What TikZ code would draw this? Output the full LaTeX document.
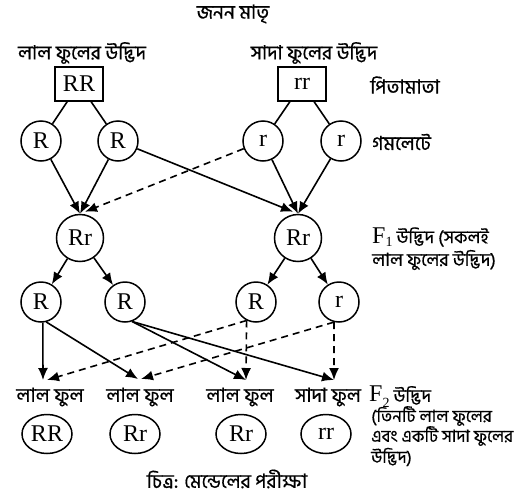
\documentclass[tikz,border=0pt]{standalone}
\usepackage{fontspec}
\setmainfont{Liberation Serif}
\newfontfamily\bn[Script=Bengali,FakeBold=0.6]{Hind Siliguri}
\usetikzlibrary{arrows.meta,shapes.geometric}
\begin{document}
\begin{tikzpicture}[x=1pt,y=-1pt,
  every node/.style={inner sep=0pt},
  lat/.style={font=\fontsize{24}{26}\selectfont},
  bntext/.style={font=\bn\fontsize{19.5}{22}\selectfont},
  sidetext/.style={font=\bn\fontsize{18}{20}\selectfont, anchor=west},
  sidesmall/.style={font=\bn\fontsize{17}{19}\selectfont, anchor=west},
  box/.style={draw, line width=1.5pt, minimum width=48pt, minimum height=34pt, lat},
  gam/.style={draw, circle, line width=1.5pt, minimum size=40pt, lat},
  fone/.style={draw, circle, line width=1.5pt, minimum size=47pt, lat},
  ftwo/.style={draw, ellipse, line width=1.5pt, minimum width=50pt, minimum height=39pt, lat},
  link/.style={line width=1.6pt},
  arr/.style={line width=1.6pt, -{Latex[length=12pt,width=10pt]}},
  darr/.style={arr, dash pattern=on 7pt off 5pt},
]
\useasboundingbox (0,0) rectangle (525,501);
\fill[white] (0,0) rectangle (525,501);

% texts
\node[bntext] (title) at (233,14) {জনন মাতৃ};
\node[bntext] (redp) at (82,53) {লাল ফুলের উদ্ভিদ};
\node[bntext] (whitep) at (314,53) {সাদা ফুলের উদ্ভিদ};
\node[bntext, anchor=west] (parents) at (370,85) {পিতামাতা};
\node[bntext, anchor=west] (gametes) at (372,142) {গমলেটে};
\node[sidetext] (fa) at (372,237) {{\rmfamily\fontsize{24}{26}\selectfont F\raisebox{-3pt}{\fontsize{14}{14}\selectfont 1}} উদ্ভিদ (সকলই};
\node[sidetext] (fb) at (372,260) {লাল ফুলের উদ্ভিদ)};
\node[sidetext] (fc) at (369,397) {{\rmfamily\fontsize{24}{26}\selectfont F\raisebox{-6pt}{\fontsize{14}{14}\selectfont 2}} উদ্ভিদ};
\node[sidesmall] (fd) at (371,416) {(তিনটি লাল ফুলের};
\node[sidesmall] (fe) at (371,436) {এবং একটি সাদা ফুলের};
\node[sidesmall] (ff) at (371,457) {উদ্ভিদ)};
\node[bntext] (cap) at (227,479) {চিত্র: মেন্ডেলের পরীক্ষা};

\node[bntext] (l1) at (50,397) {লাল ফুল};
\node[bntext] (l2) at (140,397) {লাল ফুল};
\node[bntext] (l3) at (240,397) {লাল ফুল};
\node[bntext] (l4) at (328,397) {সাদা ফুল};

% nodes
\node[box] (RR) at (79,84) {RR};
\node[box] (rr) at (302,84) {rr};
\node[gam] (R1) at (41,141) {R};
\node[gam] (R2) at (118,141) {R};
\node[gam] (r1) at (263,141) {r};
\node[gam] (r2) at (341,141) {r};
\node[fone] (F1a) at (80,238) {Rr};
\node[fone] (F1b) at (298,238) {Rr};
\node[gam] (Ga) at (41,302) {R};
\node[gam] (Gb) at (125,302) {R};
\node[gam] (Gc) at (256,302) {R};
\node[gam] (Gd) at (339,302) {r};
\node[ftwo] (B1) at (47,434) {RR};
\node[ftwo] (B2) at (135,434) {Rr};
\node[ftwo] (B3) at (241,434) {Rr};
\node[ftwo] (B4) at (326,434) {rr};

\coordinate (a1) at (43,380);
\coordinate (a2) at (138,379);
\coordinate (a3) at (246,380);
\coordinate (a4) at (334,380);

% connectors
\draw[link] (RR) -- (R1);
\draw[link] (RR) -- (R2);
\draw[link] (rr) -- (r1);
\draw[link] (rr) -- (r2);

\draw[arr] (R1) -- (F1a.north);
\draw[arr] (R2) -- (F1a.north);
\draw[darr] (r1) -- ([xshift=5pt,yshift=2pt]F1a.north);
\draw[arr] (R2) -- ([xshift=-5pt,yshift=2pt]F1b.north);
\draw[arr] (r1) -- (F1b.north);
\draw[arr] (r2) -- (F1b.north);

\draw[arr] (F1a) -- (Ga);
\draw[arr] (F1a) -- (Gb);
\draw[arr] (F1b) -- (Gc);
\draw[arr] (F1b) -- (Gd);

\draw[arr] (Ga.-85) -- (a1);
\draw[arr] (Ga.-75) -- (a2);
\draw[arr] (Gb.-70) -- (a3);
\draw[arr] (Gb.-70) -- (a4);
\draw[darr] (Gc.-117) -- (a3);
\draw[darr] (Gc.-117) -- ([xshift=4pt]a1);
\draw[darr] (Gd.-104) -- (a4);
\draw[darr] (Gd.-104) -- ([xshift=3pt]a2);
\end{tikzpicture}
\end{document}
